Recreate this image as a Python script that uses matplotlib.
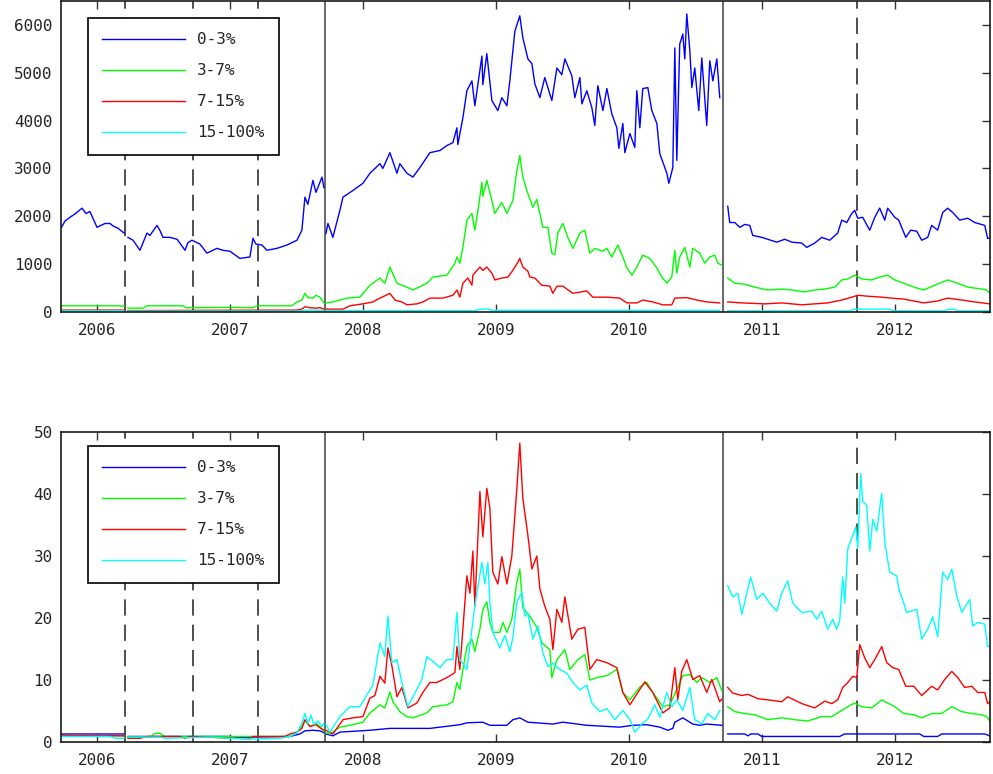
import matplotlib
matplotlib.use("Agg")
import matplotlib.pyplot as plt
import numpy as np

nan = np.nan

labels = ["0-3%", "3-7%", "7-15%", "15-100%"]
colors = ["#0000ff", "#00ff00", "#ff0000", "#00ffff"]
year_ticks = [2006, 2007, 2008, 2009, 2010, 2011, 2012]
period_lines = [2007.714, 2010.707]
event_lines = [2006.211, 2006.722, 2007.211, 2011.714]
x_range = (2005.729, 2012.716)

# ---- upper panel: levels ----
t_lvl_03 = [2005.729, 2005.759, 2005.797, 2005.835, 2005.887, 2005.917, 2005.947, 2006.000, 2006.060, 2006.098,
            2006.120, 2006.158, 2006.203, 2006.218,
            2006.233, 2006.271, 2006.323, 2006.376, 2006.398, 2006.451, 2006.474, 2006.496, 2006.549, 2006.602,
            2006.662, 2006.684, 2006.714, 2006.774, 2006.827, 2006.902, 2006.947, 2007.000, 2007.075, 2007.150,
            2007.173, 2007.195, 2007.241, 2007.278, 2007.353, 2007.429, 2007.504, 2007.541, 2007.564, 2007.586,
            2007.624, 2007.647, 2007.692, 2007.707, 2007.715,
            2007.722, 2007.737, 2007.774, 2007.827, 2007.850, 2007.925, 2008.000, 2008.053, 2008.128, 2008.150,
            2008.203, 2008.256, 2008.278, 2008.331, 2008.376, 2008.429, 2008.504, 2008.579, 2008.632, 2008.677,
            2008.707, 2008.714, 2008.752, 2008.782, 2008.820, 2008.842, 2008.895, 2008.902, 2008.932, 2008.970,
            2009.015, 2009.045, 2009.083, 2009.105, 2009.143, 2009.180, 2009.203, 2009.241, 2009.271, 2009.293,
            2009.331, 2009.368, 2009.421, 2009.459, 2009.496, 2009.519, 2009.571, 2009.594, 2009.632, 2009.647,
            2009.684, 2009.722, 2009.744, 2009.767, 2009.805, 2009.835, 2009.872, 2009.910, 2009.925, 2009.955,
            2009.970, 2010.008, 2010.045, 2010.060, 2010.083, 2010.105, 2010.143, 2010.173, 2010.211, 2010.233,
            2010.286, 2010.301, 2010.331, 2010.346, 2010.361, 2010.383, 2010.406, 2010.421, 2010.436, 2010.459,
            2010.474, 2010.496, 2010.526, 2010.549, 2010.586, 2010.609, 2010.632, 2010.662, 2010.684, 2010.720,
            2010.744, 2010.759, 2010.797, 2010.835, 2010.872, 2010.910, 2010.932, 2011.000, 2011.045, 2011.113,
            2011.173, 2011.226, 2011.301, 2011.338, 2011.398, 2011.451, 2011.511, 2011.571, 2011.602, 2011.639,
            2011.677, 2011.699, 2011.722, 2011.759, 2011.812, 2011.850, 2011.887, 2011.925, 2011.947, 2012.000,
            2012.030, 2012.083, 2012.120, 2012.165, 2012.203, 2012.248, 2012.278, 2012.323, 2012.361, 2012.398,
            2012.436, 2012.489, 2012.549, 2012.602, 2012.654, 2012.677, 2012.699, 2012.714]
v_lvl_03 = [1750, 1900, 1980, 2050, 2170, 2060, 2100, 1770, 1850, 1850,
            1800, 1750, 1650, nan,
            1560, 1500, 1290, 1650, 1600, 1810, 1700, 1560, 1560, 1520,
            1290, 1450, 1500, 1420, 1230, 1330, 1290, 1270, 1120, 1150,
            1540, 1420, 1400, 1290, 1330, 1400, 1500, 1710, 2400, 2250,
            2750, 2500, 2820, 2600, nan,
            1640, 1850, 1560, 2125, 2400, 2540, 2690, 2900, 3100, 3000,
            3330, 2900, 3100, 2900, 2820, 3020, 3330, 3375, 3480, 3540,
            3850, 3500, 4060, 4625, 4830, 4310, 5350, 4750, 5400, 4420,
            4210, 4480, 4310, 4830, 5870, 6190, 5730, 5290, 5190, 4770,
            4480, 4900, 4420, 5100, 4960, 5290, 4940, 4480, 4900, 4350,
            4625, 4270, 3900, 4730, 4210, 4670, 4140, 3850, 3420, 3940,
            3330, 3730, 3440, 4625, 3850, 4670, 4690, 4210, 3940, 3310,
            2900, 2690, 3020, 5520, 3170, 5600, 5810, 5290, 6230, 5460,
            4690, 5100, 4210, 5310, 3900, 5250, 4830, 5290, 4480, nan,
            2210, 1870, 1870, 1770, 1830, 1810, 1600, 1560, 1520, 1460,
            1520, 1460, 1440, 1350, 1440, 1560, 1500, 1650, 1920, 1870,
            2060, 2125, 1960, 1980, 1710, 1980, 2170, 1920, 2170, 1980,
            1920, 1560, 1710, 1690, 1500, 1560, 1810, 1710, 2080, 2170,
            2080, 1920, 1960, 1870, 1830, 1810, 1540, 1540]

t_lvl_37 = [2005.729, 2006.158, 2006.203, 2006.218,
            2006.233, 2006.346, 2006.376, 2006.647, 2006.669, 2007.000, 2007.173, 2007.203, 2007.466, 2007.504,
            2007.541, 2007.564, 2007.586, 2007.624, 2007.647, 2007.677, 2007.707, 2007.715,
            2007.722, 2007.774, 2007.880, 2007.977, 2008.053, 2008.128, 2008.165, 2008.203, 2008.256, 2008.331,
            2008.376, 2008.481, 2008.526, 2008.632, 2008.692, 2008.707, 2008.729, 2008.752, 2008.782, 2008.820,
            2008.842, 2008.865, 2008.895, 2008.902, 2008.932, 2008.970, 2008.992, 2009.045, 2009.083, 2009.128,
            2009.158, 2009.180, 2009.203, 2009.233, 2009.278, 2009.308, 2009.331, 2009.353, 2009.391, 2009.421,
            2009.444, 2009.466, 2009.504, 2009.541, 2009.579, 2009.632, 2009.669, 2009.707, 2009.744, 2009.805,
            2009.835, 2009.872, 2009.917, 2009.955, 2009.985, 2010.023, 2010.060, 2010.105, 2010.158, 2010.211,
            2010.248, 2010.286, 2010.323, 2010.346, 2010.361, 2010.383, 2010.421, 2010.459, 2010.481, 2010.534,
            2010.571, 2010.609, 2010.647, 2010.669, 2010.699, 2010.720,
            2010.744, 2010.797, 2010.872, 2010.947, 2011.045, 2011.150, 2011.226, 2011.323, 2011.398, 2011.474,
            2011.549, 2011.602, 2011.647, 2011.699, 2011.752, 2011.827, 2011.887, 2011.947, 2012.000, 2012.068,
            2012.143, 2012.218, 2012.301, 2012.398, 2012.474, 2012.549, 2012.654, 2012.692, 2012.714]
v_lvl_37 = [130, 130, 120, nan,
            80, 80, 130, 130, 90, 95, 90, 130, 130, 210,
            250, 390, 300, 290, 350, 310, 190, nan,
            190, 210, 290, 310, 560, 710, 600, 940, 600, 520,
            460, 600, 730, 770, 1020, 1150, 1020, 1350, 1920, 2060,
            1710, 2120, 2710, 2420, 2750, 2330, 2060, 2290, 2060, 2330,
            2960, 3270, 2820, 2540, 2190, 2350, 2060, 1770, 1770, 1230,
            1200, 1650, 1850, 1560, 1330, 1650, 1710, 1230, 1330, 1270,
            1330, 1150, 1400, 1150, 920, 770, 940, 1190, 1120, 920,
            730, 600, 730, 1290, 810, 1150, 1350, 940, 1330, 1230,
            1020, 1150, 1190, 1020, 980, nan,
            710, 600, 580, 520, 460, 480, 460, 420, 460, 480,
            520, 670, 690, 770, 690, 670, 730, 770, 670, 600,
            520, 460, 560, 670, 600, 520, 480, 460, 390]

t_lvl_715 = [2005.729, 2006.203, 2006.218,
             2006.233, 2007.504, 2007.541, 2007.564, 2007.602, 2007.647, 2007.677, 2007.707, 2007.715,
             2007.722, 2007.850, 2007.902, 2008.000, 2008.075, 2008.128, 2008.203, 2008.241, 2008.293, 2008.331,
             2008.406, 2008.451, 2008.504, 2008.602, 2008.677, 2008.707, 2008.729, 2008.752, 2008.789, 2008.820,
             2008.827, 2008.880, 2008.902, 2008.932, 2008.970, 2008.992, 2009.045, 2009.090, 2009.128, 2009.165,
             2009.180, 2009.203, 2009.241, 2009.256, 2009.293, 2009.346, 2009.406, 2009.429, 2009.459, 2009.504,
             2009.579, 2009.684, 2009.729, 2009.835, 2009.932, 2009.985, 2010.060, 2010.105, 2010.180, 2010.256,
             2010.323, 2010.346, 2010.436, 2010.511, 2010.586, 2010.684, 2010.720,
             2010.744, 2010.850, 2011.023, 2011.150, 2011.301, 2011.398, 2011.496, 2011.602, 2011.677, 2011.722,
             2011.797, 2011.902, 2011.977, 2012.068, 2012.143, 2012.218, 2012.323, 2012.398, 2012.504, 2012.602,
             2012.714]
v_lvl_715 = [40, 40, nan,
             30, 40, 60, 110, 90, 80, 90, 60, nan,
             60, 60, 130, 170, 210, 290, 390, 250, 210, 150,
             170, 210, 290, 290, 350, 460, 310, 600, 710, 560,
             770, 940, 870, 940, 810, 670, 710, 730, 870, 1040,
             1120, 940, 850, 730, 710, 560, 540, 390, 540, 540,
             390, 440, 310, 310, 290, 190, 190, 250, 210, 150,
             150, 290, 300, 250, 210, 190, nan,
             210, 190, 170, 190, 150, 170, 190, 250, 310, 350,
             330, 310, 290, 270, 230, 190, 230, 290, 250, 210,
             170]

t_lvl_15 = [2005.729, 2006.203, 2006.218,
            2006.233, 2007.504, 2007.564, 2007.707, 2007.715,
            2007.722, 2008.842, 2008.880, 2008.932, 2008.970, 2010.684, 2010.720,
            2010.744, 2011.662, 2011.699, 2011.962, 2011.985, 2012.376, 2012.398, 2012.451, 2012.474, 2012.714]
v_lvl_15 = [25, 25, nan,
            20, 20, 40, 35, nan,
            30, 30, 55, 65, 35, 35, nan,
            25, 25, 60, 60, 25, 25, 55, 55, 25, 25]

# ---- lower panel: ratios ----
t_rt_03 = [2005.729, 2006.203, 2006.218,
           2006.233, 2006.774, 2007.000, 2007.075, 2007.173, 2007.451, 2007.526, 2007.564, 2007.624, 2007.677,
           2007.707, 2007.715,
           2007.722, 2007.774, 2007.827, 2008.053, 2008.203, 2008.504, 2008.729, 2008.782, 2008.902, 2008.955,
           2009.083, 2009.128, 2009.180, 2009.241, 2009.429, 2009.504, 2009.684, 2009.932, 2010.030, 2010.135,
           2010.233, 2010.293, 2010.331, 2010.346, 2010.406, 2010.481, 2010.534, 2010.586, 2010.699, 2010.720,
           2010.744, 2010.872, 2010.895, 2010.917, 2010.970, 2011.000, 2011.586, 2011.624, 2012.188, 2012.218,
           2012.323, 2012.353, 2012.677, 2012.714]
v_rt_03 = [1.3, 1.3, nan,
           0.9, 0.9, 0.9, 0.7, 0.8, 0.9, 1.3, 1.8, 1.9, 1.8,
           1.5, nan,
           1.3, 1.0, 1.6, 1.9, 2.2, 2.2, 2.8, 3.1, 3.2, 2.7,
           2.7, 3.6, 3.9, 3.2, 2.9, 3.2, 2.7, 2.4, 2.7, 2.8,
           2.4, 1.9, 2.2, 3.2, 3.9, 2.9, 2.7, 2.9, 2.7, nan,
           1.3, 1.3, 1.0, 1.3, 1.3, 0.9, 0.9, 1.3, 1.3, 0.9,
           0.9, 1.3, 1.3, 1.0]

t_rt_37 = [2005.729, 2006.203, 2006.218,
           2006.233, 2006.398, 2006.436, 2006.474, 2006.511, 2007.451, 2007.504, 2007.541, 2007.564, 2007.602,
           2007.647, 2007.677, 2007.707, 2007.715,
           2007.722, 2007.752, 2007.827, 2007.902, 2008.000, 2008.053, 2008.128, 2008.165, 2008.203, 2008.226,
           2008.278, 2008.331, 2008.376, 2008.481, 2008.526, 2008.632, 2008.677, 2008.707, 2008.729, 2008.752,
           2008.782, 2008.820, 2008.842, 2008.880, 2008.902, 2008.932, 2008.955, 2008.977, 2009.030, 2009.053,
           2009.083, 2009.120, 2009.158, 2009.180, 2009.203, 2009.256, 2009.308, 2009.346, 2009.406, 2009.421,
           2009.459, 2009.519, 2009.556, 2009.617, 2009.669, 2009.707, 2009.759, 2009.835, 2009.910, 2009.955,
           2010.008, 2010.083, 2010.135, 2010.180, 2010.256, 2010.308, 2010.361, 2010.406, 2010.459, 2010.511,
           2010.549, 2010.609, 2010.662, 2010.699, 2010.720,
           2010.744, 2010.797, 2010.872, 2010.947, 2011.045, 2011.150, 2011.248, 2011.346, 2011.451, 2011.526,
           2011.586, 2011.647, 2011.699, 2011.752, 2011.827, 2011.902, 2011.947, 2012.000, 2012.068, 2012.143,
           2012.203, 2012.278, 2012.353, 2012.429, 2012.504, 2012.579, 2012.654, 2012.692, 2012.714]
v_rt_37 = [1.0, 1.0, nan,
           0.8, 0.8, 1.4, 1.4, 0.9, 0.9, 1.5, 2.5, 3.5, 2.5,
           3.0, 2.5, 1.7, nan,
           1.5, 1.3, 2.4, 2.7, 3.2, 4.7, 6.0, 5.5, 8.1, 6.5,
           4.9, 4.1, 3.9, 4.7, 5.7, 6.0, 6.5, 9.6, 8.5, 11.7,
           15.4, 16.6, 14.6, 18.2, 21.4, 22.6, 19.3, 17.7, 17.7, 19.3,
           17.7, 19.8, 25.8, 27.9, 21.6, 20.3, 18.5, 16.0, 14.9, 10.4,
           13.3, 14.9, 11.7, 13.3, 14.1, 10.0, 10.4, 10.7, 11.7, 8.0,
           6.8, 8.9, 9.6, 8.0, 5.7, 6.0, 8.5, 10.7, 10.9, 9.6,
           10.4, 9.6, 10.4, 8.3, nan,
           5.7, 4.9, 4.6, 4.4, 3.6, 3.9, 3.6, 3.4, 4.1, 4.1,
           4.9, 5.7, 6.3, 5.7, 5.5, 6.8, 6.3, 5.7, 4.6, 4.4,
           3.9, 4.6, 4.6, 5.7, 4.9, 4.6, 4.4, 4.1, 3.4]

t_rt_715 = [2005.729, 2006.203, 2006.218,
            2006.233, 2006.323, 2006.376, 2006.624, 2006.662, 2006.699, 2006.925, 2007.150, 2007.173, 2007.414,
            2007.451, 2007.504, 2007.541, 2007.564, 2007.602, 2007.647, 2007.677, 2007.707, 2007.715,
            2007.722, 2007.774, 2007.850, 2007.925, 2008.000, 2008.053, 2008.090, 2008.128, 2008.165, 2008.188,
            2008.218, 2008.256, 2008.293, 2008.338, 2008.406, 2008.451, 2008.504, 2008.556, 2008.632, 2008.692,
            2008.707, 2008.729, 2008.752, 2008.782, 2008.805, 2008.827, 2008.842, 2008.880, 2008.902, 2008.932,
            2008.955, 2008.977, 2009.015, 2009.045, 2009.083, 2009.120, 2009.158, 2009.180, 2009.203, 2009.241,
            2009.271, 2009.308, 2009.331, 2009.368, 2009.406, 2009.429, 2009.459, 2009.496, 2009.519, 2009.571,
            2009.617, 2009.669, 2009.707, 2009.759, 2009.835, 2009.910, 2009.955, 2010.008, 2010.068, 2010.120,
            2010.180, 2010.256, 2010.308, 2010.346, 2010.368, 2010.398, 2010.436, 2010.481, 2010.534, 2010.586,
            2010.624, 2010.684, 2010.699, 2010.720,
            2010.744, 2010.782, 2010.850, 2010.895, 2010.970, 2011.045, 2011.150, 2011.195, 2011.301, 2011.398,
            2011.474, 2011.526, 2011.571, 2011.609, 2011.647, 2011.684, 2011.714, 2011.737, 2011.774, 2011.812,
            2011.850, 2011.902, 2011.940, 2011.985, 2012.030, 2012.083, 2012.143, 2012.203, 2012.278, 2012.323,
            2012.376, 2012.429, 2012.474, 2012.526, 2012.579, 2012.624, 2012.677, 2012.699, 2012.714]
v_rt_715 = [1.1, 1.0, nan,
            0.6, 0.6, 0.9, 0.9, 0.6, 0.9, 0.7, 0.5, 0.9, 0.9,
            1.3, 1.6, 2.2, 3.6, 2.5, 2.8, 2.3, 1.9, nan,
            1.9, 1.3, 3.6, 3.9, 4.1, 7.1, 7.5, 10.6, 9.5, 15.2,
            12.3, 7.3, 8.8, 5.5, 6.3, 8.0, 9.6, 9.6, 10.4, 11.2,
            15.4, 11.7, 18.2, 26.8, 24.0, 30.8, 21.9, 40.4, 33.1, 40.9,
            37.7, 27.4, 25.5, 29.9, 25.5, 30.0, 40.9, 48.2, 39.3, 33.3,
            27.9, 30.0, 24.7, 21.9, 19.8, 14.9, 21.4, 19.3, 23.4, 16.6,
            18.2, 18.5, 11.7, 13.3, 12.8, 12.0, 8.0, 6.0, 8.0, 9.7,
            8.0, 4.7, 5.5, 12.0, 6.8, 11.4, 13.3, 10.1, 10.7, 8.0,
            10.1, 6.5, 6.9, nan,
            8.8, 7.9, 7.5, 7.7, 7.0, 6.8, 6.5, 7.3, 6.2, 5.5,
            6.6, 6.2, 6.8, 8.8, 9.6, 10.6, 10.4, 15.7, 13.6, 12.0,
            13.3, 15.4, 12.8, 12.0, 11.7, 9.0, 9.0, 7.5, 9.0, 8.4,
            10.1, 11.4, 10.4, 8.8, 9.0, 8.0, 8.0, 6.2, 6.5]

t_rt_15 = [2005.729, 2006.098, 2006.135, 2006.203, 2006.218,
           2006.233, 2006.474, 2006.511, 2006.850, 2007.000, 2007.188, 2007.376, 2007.451, 2007.504, 2007.541,
           2007.564, 2007.586, 2007.609, 2007.632, 2007.662, 2007.692, 2007.707, 2007.715,
           2007.722, 2007.752, 2007.827, 2007.902, 2007.977, 2008.030, 2008.075, 2008.128, 2008.165, 2008.188,
           2008.218, 2008.256, 2008.293, 2008.338, 2008.391, 2008.444, 2008.481, 2008.526, 2008.579, 2008.632,
           2008.677, 2008.707, 2008.729, 2008.782, 2008.820, 2008.842, 2008.895, 2008.917, 2008.940, 2008.955,
           2008.977, 2009.030, 2009.068, 2009.105, 2009.128, 2009.158, 2009.195, 2009.218, 2009.241, 2009.278,
           2009.316, 2009.353, 2009.391, 2009.429, 2009.481, 2009.534, 2009.579, 2009.632, 2009.684, 2009.722,
           2009.782, 2009.835, 2009.895, 2009.955, 2010.008, 2010.045, 2010.098, 2010.143, 2010.195, 2010.233,
           2010.286, 2010.323, 2010.361, 2010.406, 2010.459, 2010.496, 2010.549, 2010.594, 2010.647, 2010.684,
           2010.720,
           2010.744, 2010.782, 2010.820, 2010.850, 2010.887, 2010.917, 2010.962, 2011.008, 2011.060, 2011.113,
           2011.150, 2011.195, 2011.233, 2011.301, 2011.376, 2011.414, 2011.451, 2011.496, 2011.534, 2011.564,
           2011.586, 2011.609, 2011.624, 2011.647, 2011.684, 2011.707, 2011.722, 2011.744, 2011.759, 2011.789,
           2011.812, 2011.835, 2011.865, 2011.902, 2011.925, 2011.962, 2012.015, 2012.030, 2012.068, 2012.090,
           2012.165, 2012.203, 2012.248, 2012.286, 2012.323, 2012.361, 2012.398, 2012.429, 2012.466, 2012.504,
           2012.564, 2012.586, 2012.624, 2012.677, 2012.699, 2012.714]
v_rt_15 = [0.9, 0.9, 0.6, 0.6, nan,
           0.8, 0.8, 0.6, 0.8, 0.6, 0.5, 0.6, 0.9, 1.5, 3.0,
           4.6, 3.0, 4.3, 2.8, 3.4, 2.5, 3.0, nan,
           2.8, 1.6, 4.1, 5.7, 5.7, 7.6, 9.2, 16.0, 13.8, 20.3,
           12.8, 13.3, 9.6, 5.7, 7.9, 10.1, 13.8, 13.0, 12.0, 13.3,
           13.3, 20.9, 13.3, 11.7, 18.2, 22.0, 29.0, 25.5, 29.0, 22.6,
           17.7, 15.2, 17.2, 14.6, 16.9, 22.6, 24.2, 20.3, 20.8, 16.6,
           18.7, 14.4, 12.2, 12.7, 11.7, 11.1, 9.6, 8.4, 9.2, 6.3,
           4.9, 5.4, 3.6, 5.1, 3.6, 1.6, 2.9, 3.7, 6.0, 4.0,
           8.0, 5.7, 6.8, 5.1, 8.8, 3.6, 2.9, 4.6, 3.6, 5.1,
           nan,
           25.2, 23.4, 24.0, 20.6, 24.0, 26.6, 23.0, 24.0, 22.4, 21.1,
           24.0, 26.0, 22.4, 20.9, 21.1, 19.8, 21.1, 18.2, 19.8, 18.2,
           19.6, 26.6, 22.4, 31.2, 33.3, 34.7, 31.2, 43.3, 38.8, 38.2,
           30.8, 35.9, 34.0, 40.1, 32.3, 27.4, 26.8, 24.7, 22.4, 20.9,
           21.4, 16.6, 18.2, 20.2, 17.0, 27.4, 26.2, 27.9, 23.6, 20.9,
           23.0, 18.7, 19.3, 19.0, 15.4, 15.4]

panels = [
    ([(t_lvl_03, v_lvl_03), (t_lvl_37, v_lvl_37), (t_lvl_715, v_lvl_715), (t_lvl_15, v_lvl_15)],
     (0, 6500), [0, 1000, 2000, 3000, 4000, 5000, 6000]),
    ([(t_rt_03, v_rt_03), (t_rt_37, v_rt_37), (t_rt_715, v_rt_715), (t_rt_15, v_rt_15)],
     (0, 50), [0, 10, 20, 30, 40, 50]),
]

plt.rcParams["font.family"] = ["DejaVu Sans Mono"]
plt.rcParams["font.size"] = 11.5
plt.rcParams["text.color"] = "0.15"

fig = plt.figure(figsize=(9.93, 7.74), dpi=100)
axes = [fig.add_axes([0.0614, 0.5969, 0.9355, 0.4018]),
        fig.add_axes([0.0614, 0.0413, 0.9355, 0.4005])]
legend_tops = [0.9455, 0.955]

for ax, (series, ylim, yticks), ltop in zip(axes, panels, legend_tops):
    # period boundaries (solid) and event markers (dashed)
    for xv in period_lines:
        ax.axvline(xv, color="0.25", lw=1.1, zorder=1)
    for xv in event_lines:
        ax.axvline(xv, color="0.25", lw=1.3, linestyle=(0, (9, 5)), zorder=1)
    for (t, v), c, lab in zip(series, colors, labels):
        ax.plot(t, v, color=c, lw=1.0, label=lab, zorder=2)
    ax.set_xlim(*x_range)
    ax.set_ylim(*ylim)
    ax.set_xticks(year_ticks)
    ax.set_xticklabels([str(y) for y in year_ticks])
    ax.set_yticks(yticks)
    ax.tick_params(axis="both", direction="in", length=6, width=1, color="0.2", labelcolor="0.15",
                   top=True, bottom=True, left=False, right=True, labelsize=11.5)
    ax.tick_params(axis="x", pad=8)
    ax.tick_params(axis="y", pad=6)
    for sp in ax.spines.values():
        sp.set_linewidth(1.2)
        sp.set_color("0.1")
    leg = ax.legend(loc="upper left", bbox_to_anchor=(0.029, ltop), borderaxespad=0,
                    handlelength=5.2, handletextpad=0.75, labelspacing=1.0, borderpad=0.9,
                    fancybox=False, framealpha=1, edgecolor="black")
    leg.get_frame().set_linewidth(1.2)
    leg.set_zorder(5)

fig.savefig("out.png", dpi=100)
